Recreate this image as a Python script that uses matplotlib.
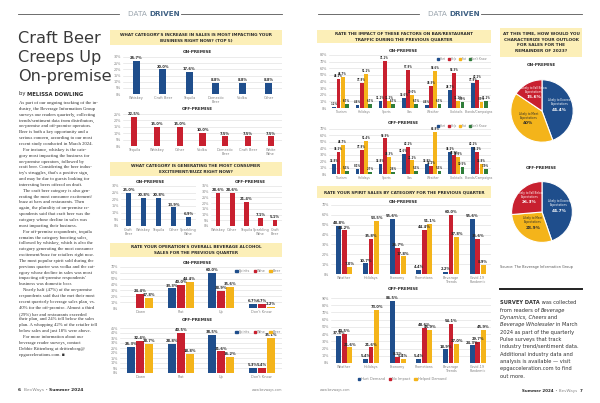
import numpy as np
import matplotlib.pyplot as plt
from matplotlib.patches import Rectangle, Patch

W, H = 600, 403
BLUE = '#1f4e8c'
RED = '#c8202f'
YELLOW = '#f4b41a'
GREEN = '#2f7d3a'
BANNER = '#fcefb8'
GRID = '#dcdcdc'
TICK = '#808080'
INK = '#2b2b2b'

# --- data: left page ---
impact_on_cats = ['Whiskey', 'Craft Beer', 'Tequila', 'Domestic\nBeer', 'Vodka', 'Other']
impact_on_vals = [26.7, 20.0, 17.6, 8.8, 8.8, 8.8]
impact_off_cats = ['Tequila', 'Whiskey', 'Other', 'Vodka', 'Domestic\nBeer', 'Craft Beer', 'White\nWine']
impact_off_vals = [22.5, 15.0, 15.0, 10.0, 7.5, 7.5, 7.5]

buzz_on_cats = ['Craft\nBeer', 'Whiskey', 'Tequila', 'Other', 'Sparkling\nWine']
buzz_on_vals = [25.0, 20.8, 20.8, 13.9, 6.9]
buzz_off_cats = ['Whiskey', 'Other', 'Tequila', 'Sparkling\nWine', 'Craft\nBeer']
buzz_off_vals = [28.6, 28.6, 21.4, 7.1, 5.1]

sales_cats = ['Down', 'Flat', 'Up', "Don't Know"]
sales_series = ['Spirits', 'Wine', 'Beer']
sales_on_spirits = [0.0, 33.3, 60.0, 6.7]
sales_on_wine = [24.4, 40.0, 28.9, 6.7]
sales_on_beer = [17.8, 44.4, 35.6, 2.2]
sales_off_spirits = [26.3, 28.8, 38.5, 5.3]
sales_off_wine = [32.4, 40.5, 21.6, 5.4]
sales_off_beer = [28.7, 18.8, 16.2, 35.1]

# --- data: right page ---
factor_cats = ['Tourism', 'Holidays', 'Sports', 'Gas', 'Weather', 'Cocktails', 'Brands/Campaigns']
factor_series = ['Hurt', 'Help', 'Flat', "Don't Know"]
factor_on_hurt = [1.2, 4.4, 11.1, 15.6, 4.4, 26.7, 37.8]
factor_on_help = [44.2, 37.8, 71.1, 57.8, 33.3, 53.3, 42.2]
factor_on_flat = [46.7, 51.1, 11.1, 20.0, 55.6, 11.1, 8.9]
factor_on_dk = [6.7, 6.7, 6.7, 6.7, 6.7, 8.9, 11.1]
factor_off_hurt = [15.8, 8.1, 15.8, 31.6, 15.8, 34.2, 42.1]
factor_off_help = [34.2, 37.8, 55.3, 42.1, 13.2, 28.9, 34.2]
factor_off_flat = [44.7, 51.4, 26.3, 21.1, 65.8, 26.3, 15.8]
factor_off_dk = [5.3, 2.7, 2.6, 5.3, 5.3, 10.5, 7.9]

spirit_cats = ['Weather', 'Holidays', 'Economy', 'Promotions', 'Beverage\nTrends', 'Covid-19\nPandemic']
spirit_series = ['Hurt Demand', 'No Impact', 'Helped Demand']
spirit_on_hurt = [48.8, 10.7, 55.6, 4.4, 2.2, 55.6]
spirit_on_none = [44.2, 35.8, 26.7, 44.4, 60.0, 35.6]
spirit_on_help = [7.0, 53.5, 17.8, 51.1, 37.8, 8.9]
spirit_off_hurt = [37.8, 5.4, 86.5, 5.4, 18.9, 24.3]
spirit_off_none = [40.5, 21.6, 8.1, 48.6, 54.1, 29.7]
spirit_off_help = [21.6, 73.0, 5.4, 45.9, 27.0, 45.9]

outlook_labels = ['Likely to Exceed\nExpectations', 'Likely to Meet\nExpectations',
                  'Likely to Fall Below\nExpectations']
outlook_on = [44.4, 40.0, 15.6]
outlook_off = [44.7, 28.9, 26.3]

body_lines = [
    "As part of our ongoing tracking of the in-",
    "dustry, the Beverage Information Group",
    "surveys our readers quarterly, collecting",
    "trends/sentiment data from distributors,",
    "on-premise and off-premise operators.",
    "Beer is both a key opportunity and a",
    "serious concern, according to our most",
    "recent study conducted in March 2024.",
    "\tFor instance, whiskey is the cate-",
    "gory most impacting the business for",
    "on-premise operators, followed by",
    "craft beer. Considering the beer indus-",
    "try's struggles, that's a positive sign,",
    "and may be due to guests looking for",
    "interesting beers offered on draft.",
    "\tThe craft beer category is also gen-",
    "erating the most consumer excitement/",
    "buzz at bars and restaurants. Then",
    "again, the plurality of on-premise re-",
    "spondents said that craft beer was the",
    "category whose decline in sales was",
    "most impacting their business.",
    "\tFor off-premise respondents, tequila",
    "remains the category boosting sales,",
    "followed by whiskey, which is also the",
    "category generating the most consumer",
    "excitement/buzz for retailers right now.",
    "The most popular spirit sold during the",
    "previous quarter was vodka and the cat-",
    "egory whose decline in sales was most",
    "impacting off-premise respondents'",
    "business was domestic beer.",
    "\tNearly half (47%) of the on-premise",
    "respondents said that the met their most",
    "recent quarterly beverage sales plan, vs.",
    "40% for the off-premise. Almost a third",
    "(29%) bar and restaurants exceeded",
    "their plan, and 24% fell below the sales",
    "plan. A whopping 42% of the retailer fell",
    "below sales and just 18% were above.",
    "\tFor more information about our",
    "beverage reader surveys, contact",
    "Debbie Rittenberg at drittenberg@",
    "epgaccelerations.com. \u25a0",
]

fig = plt.figure(figsize=(6, 4.03), dpi=100)
fig.patch.set_facecolor('white')


def box(x0, y0, x1, y1):
    return [x0 / W, 1 - y1 / H, (x1 - x0) / W, (y1 - y0) / H]


def txt(x, y, s, **kw):
    return fig.text(x / W, 1 - y / H, s, **kw)


def hline(x0, x1, y, lw=0.6, color='#555555'):
    fig.add_artist(plt.Line2D([x0 / W, x1 / W], [1 - y / H] * 2, lw=lw,
                              color=color, transform=fig.transFigure))


def banner(x0, y0, x1, y1, text):
    fig.add_artist(Rectangle((x0 / W, 1 - y1 / H), (x1 - x0) / W, (y1 - y0) / H,
                             transform=fig.transFigure, facecolor=BANNER,
                             edgecolor='none', zorder=0))
    txt((x0 + x1) / 2, (y0 + y1) / 2, text, ha='center', va='center',
        fontsize=3.0, fontweight='bold', color=INK, linespacing=1.6)


def runs(x, y, parts, fontsize, **kw):
    # draw a line of text made of differently styled pieces
    r = fig.canvas.get_renderer()
    for s, style in parts:
        opts = {**kw, **style}
        t = txt(x, y, s, fontsize=fontsize, va='center', **opts)
        x += t.get_window_extent(r).width * W / fig.bbox.width


def bars(x0, y0, x1, y1, cats, series, colors, ymax, step,
         group=0.3, cat_fs=2.5, lab_fs=2.6, fmt='{:.1f}%'):
    ax = fig.add_axes(box(x0, y0, x1, y1))
    ax.set_facecolor('none')
    n = len(series)
    x = np.arange(len(cats))
    w = group / n
    for i, (vals, c) in enumerate(zip(series, colors)):
        pos = x + (i - (n - 1) / 2) * w
        ax.bar(pos, vals, w * 0.9, color=c, zorder=2)
        for p, v in zip(pos, vals):
            if v <= 0:
                continue
            ax.annotate(fmt.format(v), (p, v), xytext=(0, 0.6),
                        textcoords='offset points', ha='center', va='bottom',
                        fontsize=lab_fs, fontweight='bold', color=INK)
    ax.set_xlim(-0.5, len(cats) - 0.5)
    ax.set_ylim(0, ymax)
    ticks = np.arange(0, ymax + 0.01, step)
    ax.set_yticks(ticks, [f'{t:.0f}%' for t in ticks])
    ax.set_xticks(x, cats)
    ax.grid(axis='y', color=GRID, lw=0.4, zorder=0)
    for s in ax.spines.values():
        s.set_visible(False)
    ax.tick_params(length=0, pad=1.2, labelsize=cat_fs, colors=TICK)
    ax.tick_params(axis='y', labelsize=2.4, pad=1.5)
    for lab in ax.get_xticklabels():
        lab.set_linespacing(1.0)
    return ax


def legend(x, y, names, colors, fs=2.5, gap=1.0):
    fig.legend([Patch(color=c) for c in colors], names, loc='center',
               bbox_to_anchor=(x / W, 1 - y / H), ncol=len(names), frameon=False,
               fontsize=fs, handlelength=0.7, handleheight=0.7, borderpad=0.1,
               handletextpad=0.3, columnspacing=gap, labelcolor=TICK)


def pie(x0, y0, x1, y1, vals, labels):
    ax = fig.add_axes(box(x0, y0, x1, y1))
    wedges, _ = ax.pie(vals, colors=[BLUE, YELLOW, RED], startangle=90,
                       counterclock=False,
                       wedgeprops=dict(edgecolor='white', linewidth=0.8))
    for wdg, v, lab, col in zip(wedges, vals, labels, ['white', INK, 'white']):
        a = np.deg2rad((wdg.theta1 + wdg.theta2) / 2)
        cx, cy = 0.56 * np.cos(a), 0.56 * np.sin(a)
        ax.text(cx, cy + 0.06, lab, ha='center', va='bottom', fontsize=2.0,
                color=col, linespacing=1.0)
        ax.text(cx, cy + 0.01, f'{v:g}%', ha='center', va='top', fontsize=3.1,
                fontweight='bold', color=col)
    ax.set_aspect('equal')


# --- page headers ---
for cx, l0, l1, r0, r1 in [(150, 18, 119, 181, 282), (450, 318, 419, 481, 582)]:
    hline(l0, l1, 14)
    hline(r0, r1, 14)
    txt(cx - 1, 14, 'DATA ', ha='right', va='center', fontsize=5.2, color='#9aa4ad')
    txt(cx - 1, 14, 'DRIVEN', ha='left', va='center', fontsize=5.2,
        fontweight='bold', color='#3f6184')

# --- left column: headline and body ---
for i, line in enumerate(['Craft Beer', 'Creeps Up', 'On-premise']):
    txt(18, 38.5 + i * 19.2, line, ha='left', va='center', fontsize=11.6,
        family=['Liberation Sans Narrow', 'DejaVu Sans'], color='#3a3a3a')
runs(19, 94, [('by ', {}), ('MELISSA DOWLING', {'fontweight': 'bold'})], 3.8,
     color=INK)
for i, line in enumerate(body_lines):
    indent = 4 if line.startswith('\t') else 0
    txt(19 + indent, 103 + i * 5.85, line.strip('\t'), ha='left', va='center',
        fontsize=3.45, family='Liberation Serif', color='#333333')
runs(18, 390, [('6  ', {'fontweight': 'bold'}), ('BevWays \u2022 ', {'color': '#888888'}),
               ('Summer 2024', {'fontweight': 'bold'})], 3.2, color=INK)
txt(282, 390, 'www.bevways.com', ha='right', va='center', fontsize=2.3, color=TICK)

# --- left page charts ---
banner(110, 30, 282, 45, "WHAT CATEGORY'S INCREASE IN SALES IS MOST IMPACTING YOUR\n"
                         "BUSINESS RIGHT NOW? (TOP 5)")
txt(197, 52, 'ON-PREMISE', ha='center', va='center', fontsize=3.0, fontweight='bold', color=INK)
bars(123, 57, 282, 94, impact_on_cats, [impact_on_vals], [BLUE], 30, 5)
txt(197, 109, 'OFF-PREMISE', ha='center', va='center', fontsize=3.0, fontweight='bold', color=INK)
bars(123, 114, 282, 146, impact_off_cats, [impact_off_vals], [RED], 25, 5)

banner(110, 162, 282, 176, "WHAT CATEGORY IS GENERATING THE MOST CONSUMER\n"
                           "EXCITEMENT/BUZZ RIGHT NOW?")
txt(150, 182, 'ON-PREMISE', ha='center', va='center', fontsize=3.0, fontweight='bold', color=INK)
bars(121, 186, 196, 226, buzz_on_cats, [buzz_on_vals], [BLUE], 30, 5, group=0.35)
txt(250, 182, 'OFF-PREMISE', ha='center', va='center', fontsize=3.0, fontweight='bold', color=INK)
bars(211, 186, 282, 226, buzz_off_cats, [buzz_off_vals], [RED], 35, 5, group=0.35)

banner(110, 243, 282, 257, "RATE YOUR OPERATION'S OVERALL BEVERAGE ALCOHOL\n"
                           "SALES FOR THE PREVIOUS QUARTER")
txt(197, 263, 'ON-PREMISE', ha='center', va='center', fontsize=3.0, fontweight='bold', color=INK)
bars(120, 267, 282, 308, sales_cats,
     [sales_on_spirits, sales_on_wine, sales_on_beer], [BLUE, RED, YELLOW], 70, 10, group=0.66)
legend(258, 271, sales_series, [BLUE, RED, YELLOW])
txt(197, 320, 'OFF-PREMISE', ha='center', va='center', fontsize=3.0, fontweight='bold', color=INK)
bars(120, 328, 282, 373, sales_cats,
     [sales_off_spirits, sales_off_wine, sales_off_beer], [BLUE, RED, YELLOW], 45, 5, group=0.66)
legend(258, 332, sales_series, [BLUE, RED, YELLOW])

# --- right page: factor charts ---
banner(317, 30, 491, 43, "RATE THE IMPACT OF THESE FACTORS ON BAR/RESTAURANT\n"
                         "TRAFFIC DURING THE PREVIOUS QUARTER")
fcolors = [BLUE, RED, YELLOW, GREEN]
txt(403, 51, 'ON-PREMISE', ha='center', va='center', fontsize=3.0, fontweight='bold', color=INK)
bars(329, 55, 491, 108, factor_cats,
     [factor_on_hurt, factor_on_help, factor_on_flat, factor_on_dk], fcolors, 80, 10,
     group=0.72, lab_fs=1.8, cat_fs=2.2)
legend(462, 59, factor_series, fcolors, fs=2.0, gap=0.7)
txt(403, 123, 'OFF-PREMISE', ha='center', va='center', fontsize=3.0, fontweight='bold', color=INK)
bars(329, 129, 491, 174, factor_cats,
     [factor_off_hurt, factor_off_help, factor_off_flat, factor_off_dk], fcolors, 70, 10,
     group=0.72, lab_fs=1.8, cat_fs=2.2)
legend(462, 126, factor_series, fcolors, fs=2.0, gap=0.7)

# --- right page: spirit sales ---
banner(317, 186, 491, 198, "RATE YOUR SPIRIT SALES BY CATEGORY FOR THE PREVIOUS QUARTER")
scolors = [BLUE, RED, YELLOW]
txt(403, 202, 'ON-PREMISE', ha='center', va='center', fontsize=3.0, fontweight='bold', color=INK)
bars(331, 205, 491, 274, spirit_cats,
     [spirit_on_hurt, spirit_on_none, spirit_on_help], scolors, 70, 10,
     group=0.62, lab_fs=2.6, cat_fs=2.4)
txt(403, 289, 'OFF-PREMISE', ha='center', va='center', fontsize=3.0, fontweight='bold', color=INK)
bars(331, 298, 491, 363, spirit_cats,
     [spirit_off_hurt, spirit_off_none, spirit_off_help], scolors, 90, 10,
     group=0.62, lab_fs=2.6, cat_fs=2.4)
legend(402, 379, spirit_series, scolors, fs=2.5)
txt(320, 390, 'www.bevways.com', ha='left', va='center', fontsize=2.3, color=TICK)

# --- right column: outlook pies ---
fig.add_artist(Rectangle((500 / W, 1 - 57 / H), 82 / W, 29 / H, transform=fig.transFigure,
                         facecolor=BANNER, edgecolor='none', zorder=0))
txt(541, 42.5, 'AT THIS TIME, HOW WOULD YOU\nCHARACTERIZE YOUR OUTLOOK\n'
               'FOR SALES FOR THE\nREMAINDER OF 2023?', ha='center', va='center',
    fontsize=3.1, fontweight='bold', color=INK, linespacing=1.55)
txt(541, 65, 'ON-PREMISE', ha='center', va='center', fontsize=3.0, fontweight='bold', color=INK)
pie(503, 72, 581, 150, outlook_on, outlook_labels)
txt(541, 168, 'OFF-PREMISE', ha='center', va='center', fontsize=3.0, fontweight='bold', color=INK)
pie(503, 174, 581, 250, outlook_off, outlook_labels)
txt(500, 267, 'Source: The Beverage Information Group', ha='left', va='center',
    fontsize=2.5, color='#555555')
hline(500, 582, 289, lw=1.4, color='#222222')

it = {'style': 'italic'}
bd = {'fontweight': 'bold'}
para = [
    [('SURVEY DATA', bd), (' was collected', {})],
    [('from readers of ', {}), ('Beverage', it)],
    [('Dynamics, Cheers', it), (' and', {})],
    [('Beverage Wholesaler', it), (' in March', {})],
    [('2024 as part of the quarterly', {})],
    [('Pulse surveys that track', {})],
    [('industry trend/sentiment data.', {})],
    [('Additional industry data and', {})],
    [('analysis is available \u2014 visit', {})],
    [('epgacceleration.com to find', {})],
    [('out more.', {})],
]
for i, parts in enumerate(para):
    runs(500, 303 + i * 7.3, parts, 3.7, color='#333333')
runs(522, 391, [('Summer 2024', bd), (' \u2022 BevWays  ', {'color': '#888888'}),
                ('7', bd)], 2.9, color=INK)

fig.savefig('out.png', dpi=100, facecolor='white')
